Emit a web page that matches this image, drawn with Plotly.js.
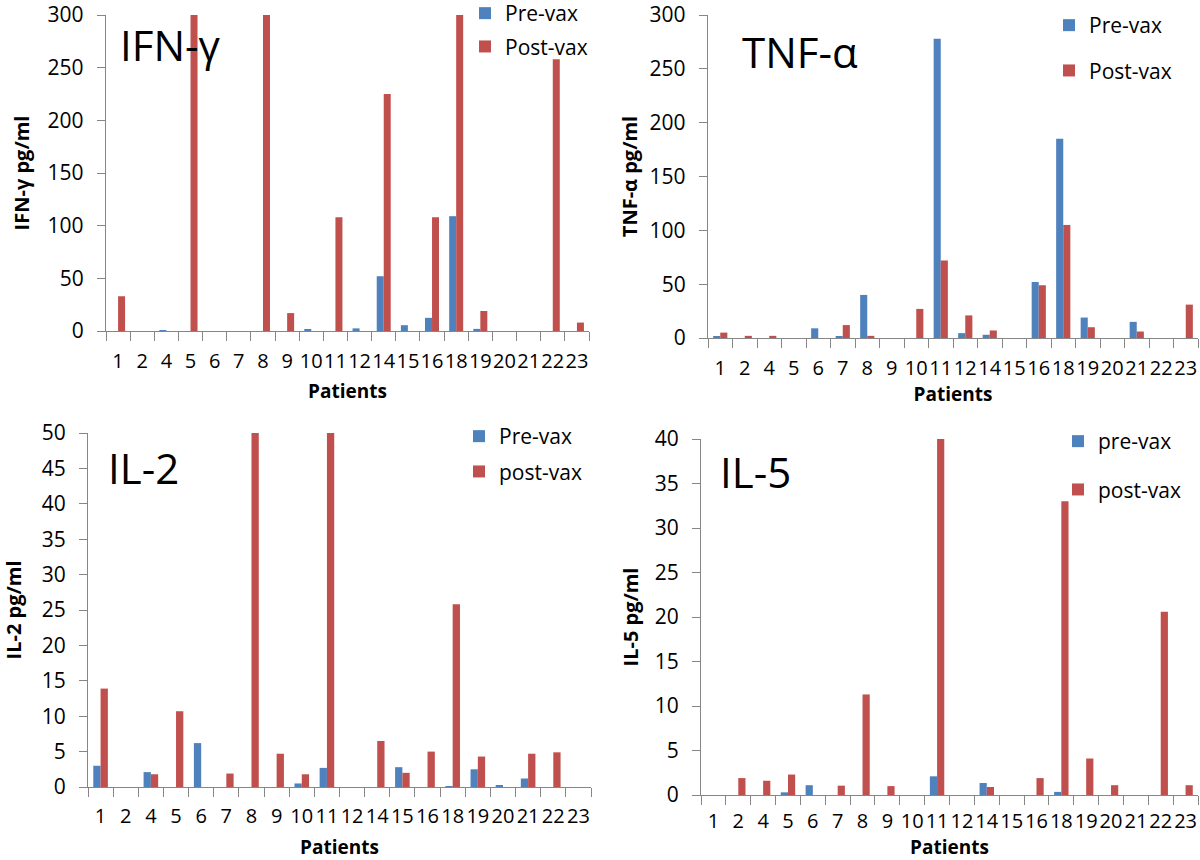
<!DOCTYPE html>
<html>
<head>
<meta charset="utf-8">
<script src="https://cdn.plot.ly/plotly-3.0.1.min.js"></script>
<style>
  html, body { margin: 0; padding: 0; background: #ffffff; }
  #chart { width: 1200px; height: 860px; }
</style>
</head>
<body>
<div id="chart"></div>
<script>
// ---------- data ----------
const patients = ["1","2","4","5","6","7","8","9","10","11","12","14","15","16","18","19","20","21","22","23"];

const ifnPre  = [0, 0, 0.5, 0, 0, 0, 0, 0, 1, 0, 2.5, 52, 5.5, 12.5, 109, 2, 0, 0, 0, 0];
const ifnPost = [33, 0, 0, 300, 0, 0, 300, 17, 0, 108, 0, 225, 0, 108, 300, 19, 0, 0, 258, 8];

const tnfPre  = [1, 0, 0, 0, 9, 1.5, 40, 0, 0, 278, 4.5, 3, 0, 52, 185, 19, 0, 15, 0, 0];
const tnfPost = [5, 2, 2, 0, 0, 12, 2, 0, 27, 72, 21, 7, 0, 49, 105, 10, 0, 6, 0, 31];

const il2Pre  = [3, 0, 2.1, 0, 6.2, 0, 0, 0, 0.5, 2.7, 0, 0, 2.8, 0, 0.1, 2.5, 0.15, 1.2, 0, 0];
const il2Post = [13.9, 0, 1.8, 10.7, 0, 1.9, 50, 4.7, 1.8, 50, 0, 6.5, 2, 5, 25.8, 4.3, 0, 4.7, 4.9, 0];

const il5Pre  = [0, 0, 0, 0.3, 1.1, 0, 0, 0, 0, 2.1, 0, 1.35, 0, 0, 0.35, 0, 0, 0, 0, 0];
const il5Post = [0, 1.9, 1.6, 2.3, 0, 1.05, 11.3, 1.0, 0, 40, 0, 0.9, 0, 1.9, 33, 4.1, 1.1, 0, 20.6, 1.1];

const legendNames = {
  ifn: ["Pre-vax", "Post-vax"],
  tnf: ["Pre-vax", "Post-vax"],
  il2: ["Pre-vax", "post-vax"],
  il5: ["pre-vax", "post-vax"]
};
const panelLabels = ["IFN-γ", "TNF-α", "IL-2", "IL-5"];
const yTitles = ["IFN-γ pg/ml", "TNF-α pg/ml", "IL-2 pg/ml", "IL-5 pg/ml"];
const xTitle = "Patients";

// ---------- style ----------
const BLUE = "#4F81BD";
const RED = "#C0504D";
const AXIS = "#868686";

function bar(y, name, color, ax, leg, grp) {
  return {
    type: "bar", x: patients, y: y, name: name,
    marker: { color: color, line: { width: 0 } },
    xaxis: "x" + ax, yaxis: "y" + ax,
    legend: leg, legendgroup: grp,
    hoverinfo: "x+y+name"
  };
}

const data = [
  bar(ifnPre,  legendNames.ifn[0], BLUE, "",  "legend",  "a1"),
  bar(ifnPost, legendNames.ifn[1], RED,  "",  "legend",  "b1"),
  bar(tnfPre,  legendNames.tnf[0], BLUE, "2", "legend2", "a2"),
  bar(tnfPost, legendNames.tnf[1], RED,  "2", "legend2", "b2"),
  bar(il2Pre,  legendNames.il2[0], BLUE, "3", "legend3", "a3"),
  bar(il2Post, legendNames.il2[1], RED,  "3", "legend3", "b3"),
  bar(il5Pre,  legendNames.il5[0], BLUE, "4", "legend4", "a4"),
  bar(il5Post, legendNames.il5[1], RED,  "4", "legend4", "b4")
];

function xAxis(domain, anchor, labelOff, titleOff) {
  return {
    domain: domain, anchor: anchor, type: "category",
    tickmode: "linear", tick0: 0, dtick: 1, tickson: "boundaries",
    ticks: "outside", ticklen: 9, tickwidth: 1.3, tickcolor: AXIS,
    showline: true, linecolor: AXIS, linewidth: 1.3,
    tickangle: 0, tickfont: { size: 20, color: "#000" }, ticklabelstandoff: labelOff,
    ticklabeloverflow: "allow",
    showgrid: false, zeroline: false, fixedrange: true,
    title: { text: "<b>" + xTitle + "</b>", font: { size: 19, color: "#000" }, standoff: titleOff }
  };
}
function yAxis(domain, anchor, max, step, title, titleOff) {
  return {
    domain: domain, anchor: anchor, range: [0, max], tick0: 0, dtick: step,
    ticks: "outside", ticklen: 8, tickwidth: 1.3, tickcolor: AXIS,
    showline: true, linecolor: AXIS, linewidth: 1.3,
    tickfont: { size: 21, color: "#000" }, ticklabelstandoff: 9,
    ticklabeloverflow: "allow",
    showgrid: false, zeroline: false, fixedrange: true,
    title: { text: "<b>" + title + "</b>", font: { size: 20, color: "#000" }, standoff: titleOff }
  };
}
function legend(x, y, gap) {
  return {
    x: x, y: y, xanchor: "left", yanchor: "top",
    bgcolor: "rgba(0,0,0,0)", borderwidth: 0,
    font: { size: 21, color: "#000" }, tracegroupgap: gap,
    itemclick: false, itemdoubleclick: false
  };
}
function label(text, x, y) {
  return {
    text: text, xref: "paper", yref: "paper", x: x, y: y,
    xanchor: "center", yanchor: "middle", showarrow: false,
    font: { size: 42, color: "#000" }
  };
}

const layout = {
  width: 1200, height: 860,
  margin: { l: 0, r: 0, t: 0, b: 0, autoexpand: false },
  paper_bgcolor: "#ffffff", plot_bgcolor: "#ffffff",
  font: { family: "Open Sans, Noto Sans, sans-serif", color: "#000" },
  barmode: "group", bargap: 0.42, bargroupgap: 0,
  showlegend: true,
  xaxis:  xAxis([106 / 1200, 589 / 1200], "y", 12, 11),
  yaxis:  yAxis([1 - 331 / 860, 1 - 15 / 860], "x", 300, 50, yTitles[0], 12),
  xaxis2: xAxis([708 / 1200, 1198 / 1200], "y2", 12, 3),
  yaxis2: yAxis([1 - 338 / 860, 1 - 15 / 860], "x2", 300, 50, yTitles[1], 6),
  xaxis3: xAxis([88 / 1200, 591 / 1200], "y3", 11, 23),
  yaxis3: yAxis([1 - 787 / 860, 1 - 433 / 860], "x3", 50, 5, yTitles[2], 14),
  xaxis4: xAxis([701 / 1200, 1198 / 1200], "y4", 8, 15),
  yaxis4: yAxis([1 - 795 / 860, 1 - 439 / 860], "x4", 40, 5, yTitles[3], 10),
  legend:  legend(465 / 1200, 1 + 7 / 860, 3),
  legend2: legend(1049 / 1200, 1 - 5 / 860, 15),
  legend3: legend(459 / 1200, 1 - 416 / 860, 5),
  legend4: legend(1058 / 1200, 1 - 421 / 860, 18),
  annotations: [
    label(panelLabels[0], 170 / 1200, 1 - 45 / 860),
    label(panelLabels[1], 800 / 1200, 1 - 51 / 860),
    label(panelLabels[2], 143 / 1200, 1 - 467 / 860),
    label(panelLabels[3], 755 / 1200, 1 - 471 / 860)
  ]
};

Plotly.newPlot("chart", data, layout, { displayModeBar: false, staticPlot: false, responsive: false });
</script>
</body>
</html>
